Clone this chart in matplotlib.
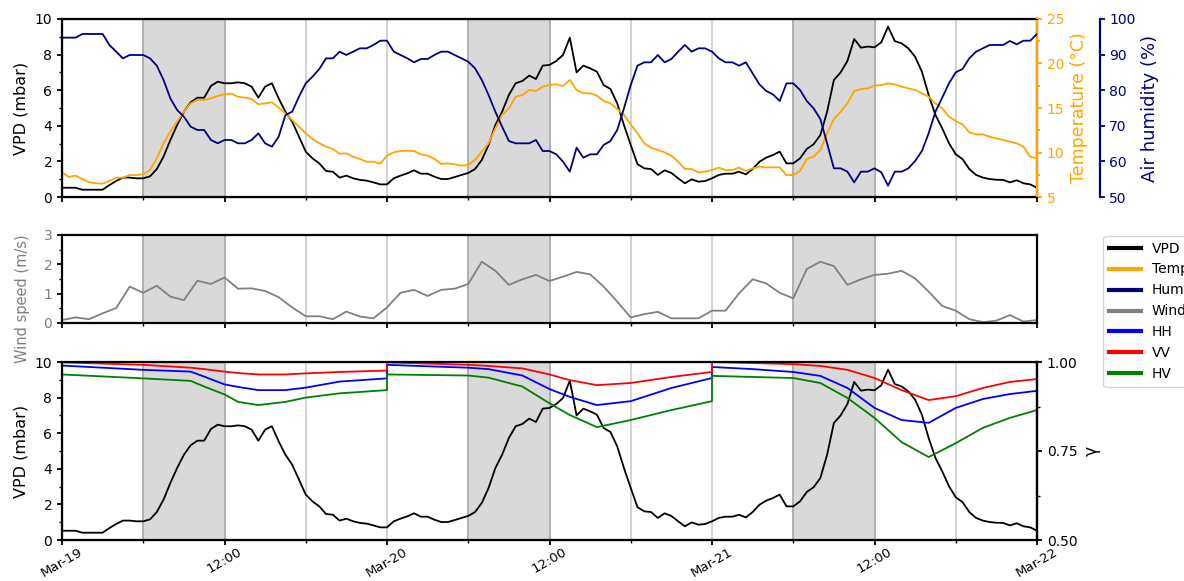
import matplotlib
matplotlib.use("Agg")
import matplotlib.pyplot as plt
from matplotlib.ticker import AutoMinorLocator, MultipleLocator
import numpy as np

# half-hourly sampling, hours since Mar-19 00:00
hours = np.arange(0, 72.5, 0.5)
wind_hours = np.arange(0, 73, 1)

vpd = [
    0.52, 0.52, 0.52, 0.41, 0.41, 0.41, 0.41, 0.67, 0.90, 1.09, 1.09, 1.05, 1.05, 1.16, 1.57, 2.27,
    3.20, 4.04, 4.79, 5.32, 5.58, 5.58, 6.24, 6.48, 6.39, 6.39, 6.44, 6.39, 6.20, 5.58, 6.20, 6.39,
    5.54, 4.79, 4.23, 3.39, 2.55, 2.17, 1.89, 1.46, 1.42, 1.09, 1.20, 1.05, 0.96, 0.92, 0.82, 0.71, 0.71,
    1.05, 1.20, 1.33, 1.50, 1.31, 1.31, 1.14, 1.01, 1.01, 1.12, 1.24, 1.35, 1.57, 2.08, 2.92, 4.04,
    4.79, 5.73, 6.39, 6.52, 6.82, 6.63, 7.38, 7.42, 7.64, 7.98, 8.95, 7.00, 7.38, 7.23, 7.04, 6.29,
    6.07, 5.26, 4.04, 2.92, 1.84, 1.61, 1.57, 1.24, 1.50, 1.35, 1.05, 0.77, 0.99, 0.86, 0.90, 1.05,
    1.24, 1.31, 1.31, 1.42, 1.27, 1.57, 1.98, 2.21, 2.36, 2.55, 1.89, 1.89, 2.17, 2.70, 2.96, 3.48,
    4.79, 6.57, 7.00, 7.64, 8.88, 8.39, 8.45, 8.41, 8.69, 9.57, 8.76, 8.63, 8.35, 7.88, 7.04, 5.73,
    4.61, 3.86, 3.02, 2.40, 2.13, 1.57, 1.24, 1.09, 1.01, 0.97, 0.96, 0.82, 0.94, 0.77, 0.71, 0.52,
]

temp = [
    7.77, 7.25, 7.40, 7.02, 6.65, 6.54, 6.50, 6.80, 7.17, 7.17, 7.47, 7.47, 7.55, 8.03, 9.34, 11.03,
    12.34, 13.46, 14.59, 15.52, 15.90, 15.90, 16.09, 16.35, 16.54, 16.61, 16.27, 16.16, 16.01, 15.41, 15.52, 15.64,
    15.04, 14.40, 13.65, 12.90, 12.15, 11.52, 11.03, 10.66, 10.39, 9.87, 9.90, 9.53, 9.27, 8.97, 8.97, 8.75, 9.64,
    10.02, 10.17, 10.20, 10.17, 9.79, 9.64, 9.27, 8.71, 8.78, 8.67, 8.52, 8.60, 9.16, 10.09, 11.03, 12.72,
    14.21, 14.96, 16.27, 16.46, 17.02, 16.91, 17.40, 17.58, 17.66, 17.47, 18.15, 17.02, 16.65, 16.65, 16.39, 15.79,
    15.52, 14.89, 14.21, 13.16, 12.15, 11.03, 10.54, 10.28, 10.02, 9.64, 8.97, 8.15, 8.15, 7.77, 7.85, 8.03,
    8.30, 8.03, 8.03, 8.30, 7.92, 8.22, 8.41, 8.33, 8.33, 8.33, 7.47, 7.47, 7.92, 9.27, 9.53, 10.28,
    12.15, 13.76, 14.59, 15.52, 16.91, 17.13, 17.21, 17.51, 17.58, 17.77, 17.66, 17.40, 17.21, 17.02, 16.65, 16.27,
    15.52, 14.96, 14.03, 13.54, 13.16, 12.27, 12.04, 12.04, 11.78, 11.59, 11.40, 11.22, 11.03, 10.66, 9.53, 9.34,
]

hum = [
    94.76, 94.76, 94.76, 95.79, 95.79, 95.79, 95.79, 92.70, 90.82, 88.95, 89.89, 89.89, 89.89, 88.95, 86.89, 82.87,
    77.72, 74.44, 72.57, 69.76, 68.82, 68.82, 66.01, 65.08, 66.01, 66.01, 65.08, 65.08, 66.01, 67.88, 65.08, 64.14,
    66.95, 73.03, 73.97, 78.18, 81.93, 83.80, 85.96, 88.95, 88.95, 90.82, 89.89, 90.82, 91.76, 91.76, 92.70, 93.91, 93.91,
    90.82, 89.89, 88.95, 87.83, 88.76, 88.76, 89.89, 90.82, 90.82, 89.89, 88.95, 88.01, 86.14, 82.87, 78.65, 73.97,
    69.76, 65.73, 65.08, 65.08, 65.08, 66.01, 62.92, 62.92, 61.99, 59.92, 57.12, 63.86, 61.05, 61.99, 61.99, 64.61,
    65.73, 68.82, 74.91, 81.46, 86.89, 87.83, 87.83, 89.89, 87.83, 88.76, 90.82, 92.70, 90.82, 91.76, 91.76, 90.82,
    88.95, 87.83, 87.83, 86.89, 87.83, 84.74, 81.65, 79.78, 78.84, 76.97, 81.93, 81.93, 80.06, 76.97, 74.91, 71.91,
    65.08, 58.05, 58.05, 57.12, 54.12, 57.12, 57.12, 58.05, 56.93, 53.18, 57.12, 57.12, 58.05, 60.11, 62.92, 67.88,
    73.97, 77.90, 81.93, 85.02, 85.96, 88.95, 90.82, 91.76, 92.70, 92.70, 92.70, 93.82, 92.88, 93.91, 93.91, 95.79,
]

wind = [
    0.10, 0.19, 0.13, 0.33, 0.51, 1.24, 1.03, 1.27, 0.90, 0.78, 1.44, 1.33, 1.55, 1.17, 1.18, 1.09,
    0.88, 0.53, 0.23, 0.23, 0.13, 0.39, 0.22, 0.16, 0.53, 1.03, 1.13, 0.92, 1.13, 1.17, 1.33, 2.09,
    1.78, 1.30, 1.49, 1.64, 1.43, 1.58, 1.74, 1.66, 1.24, 0.73, 0.19, 0.30, 0.38, 0.16, 0.16, 0.16,
    0.42, 0.42, 1.01, 1.49, 1.35, 1.03, 0.84, 1.84, 2.09, 1.94, 1.30, 1.49, 1.64, 1.68, 1.78, 1.52,
    1.07, 0.58, 0.42, 0.13, 0.03, 0.08, 0.27, 0.05, 0.10,
]

# backscatter ratio (gamma); values restart at midnight, hence the repeated hours
gamma_hours = [0, 6, 9.5, 10.5, 12, 13, 14.5, 16.5, 18, 20.5, 24,
               24, 30, 31.5, 34, 36, 37.5, 39.5, 42, 45, 48,
               48, 51, 54, 56, 58, 60, 62, 64, 66, 68, 70, 72]
gamma_vv = [0.999, 0.992, 0.984, 0.980, 0.973, 0.969, 0.965, 0.965, 0.968, 0.972, 0.976,
            0.999, 0.992, 0.989, 0.982, 0.965, 0.949, 0.935, 0.941, 0.958, 0.972,
            1.000, 0.997, 0.994, 0.989, 0.978, 0.955, 0.921, 0.893, 0.904, 0.927, 0.944, 0.952]
gamma_hh = [0.990, 0.978, 0.973, 0.959, 0.937, 0.930, 0.921, 0.921, 0.928, 0.945, 0.954,
            0.992, 0.984, 0.980, 0.962, 0.924, 0.902, 0.879, 0.890, 0.927, 0.955,
            0.986, 0.980, 0.972, 0.961, 0.927, 0.871, 0.837, 0.829, 0.871, 0.896, 0.910, 0.919]
gamma_hv = [0.965, 0.954, 0.947, 0.931, 0.909, 0.888, 0.879, 0.888, 0.900, 0.912, 0.921,
            0.965, 0.962, 0.956, 0.931, 0.884, 0.851, 0.817, 0.837, 0.865, 0.890,
            0.961, 0.958, 0.955, 0.941, 0.899, 0.843, 0.775, 0.733, 0.772, 0.815, 0.843, 0.865]

tick_hours = [0, 12, 24, 36, 48, 60, 72]
tick_labels = ["Mar-19", "12:00", "Mar-20", "12:00", "Mar-21", "12:00", "Mar-22"]
grid_hours = [6, 12, 18, 24, 30, 36, 42, 48, 54, 60, 66]
day_spans = [(6, 12), (30, 36), (54, 60)]

W, H = 1184, 581
fig = plt.figure(figsize=(W / 100, H / 100), dpi=100)
left, width = 62 / W, 975 / W
ax1 = fig.add_axes([left, 1 - 197 / H, width, 178 / H])
ax2 = fig.add_axes([left, 1 - 323 / H, width, 88 / H], sharex=ax1)
ax3 = fig.add_axes([left, 1 - 540 / H, width, 178 / H], sharex=ax1)

for ax in (ax1, ax2, ax3):
    for h in grid_hours:
        ax.axvline(h, color="#cccccc", lw=1.2, zorder=0)
    for a, b in day_spans:
        ax.axvspan(a, b, facecolor="#d9d9d9", edgecolor="#aaaaaa", lw=1.2, zorder=0)
    for s in ax.spines.values():
        s.set_linewidth(1.6)
    ax.tick_params(width=1.3, labelsize=10)
    ax.tick_params(which="minor", width=1.0)
    ax.xaxis.set_minor_locator(MultipleLocator(6))

lw = 1.3
# top: VPD, temperature, humidity
l_vpd, = ax1.plot(hours, vpd, color="black", lw=lw)
ax1.set_ylim(0, 10)
ax1.set_yticks([0, 2, 4, 6, 8, 10])
ax1.yaxis.set_minor_locator(AutoMinorLocator(2))
ax1.set_ylabel("VPD (mbar)", fontsize=11.5)
ax1.yaxis.set_label_coords(-0.034, 0.5)

ax1t = ax1.twinx()
l_temp, = ax1t.plot(hours, temp, color="orange", lw=lw)
ax1t.set_ylim(5, 25)
ax1t.set_yticks([5, 10, 15, 20, 25])
ax1t.yaxis.set_minor_locator(AutoMinorLocator(2))
ax1t.set_ylabel("Temperature (°C)", color="orange", fontsize=12.5)
ax1t.tick_params(colors="orange", which="both", labelsize=10, width=1.3)
ax1t.spines["right"].set_color("orange")
ax1t.spines["right"].set_linewidth(1.6)

ax1h = ax1.twinx()
ax1h.spines["right"].set_position(("outward", 45))
l_hum, = ax1h.plot(hours, hum, color="navy", lw=lw)
ax1h.set_ylim(50, 100)
ax1h.set_yticks([50, 60, 70, 80, 90, 100])
ax1h.set_ylabel("Air humidity (%)", color="navy", fontsize=13)
ax1h.tick_params(colors="navy", labelsize=10, width=1.3)
ax1h.spines["right"].set_color("navy")
ax1h.spines["right"].set_linewidth(1.6)
for s in ("top", "left", "bottom"):
    ax1h.spines[s].set_visible(False)

# middle: wind speed
l_wind, = ax2.plot(wind_hours, wind, color="gray", lw=lw)
ax2.set_ylim(0, 3)
ax2.set_yticks([0, 1, 2, 3])
ax2.yaxis.set_minor_locator(AutoMinorLocator(2))
ax2.set_ylabel("Wind speed (m/s)", color="gray", fontsize=10.5)
ax2.yaxis.set_label_coords(-0.033, 0.28)
ax2.tick_params(axis="y", labelcolor="gray")

# bottom: VPD and gamma
ax3.plot(hours, vpd, color="black", lw=lw)
ax3.set_ylim(0, 10)
ax3.set_yticks([0, 2, 4, 6, 8, 10])
ax3.yaxis.set_minor_locator(AutoMinorLocator(2))
ax3.set_ylabel("VPD (mbar)", fontsize=11.5)
ax3.yaxis.set_label_coords(-0.034, 0.5)

ax3g = ax3.twinx()
l_hh, = ax3g.plot(gamma_hours, gamma_hh, color="blue", lw=lw)
l_vv, = ax3g.plot(gamma_hours, gamma_vv, color="red", lw=lw)
l_hv, = ax3g.plot(gamma_hours, gamma_hv, color="green", lw=lw)
ax3g.set_ylim(0.5, 1.0)
ax3g.set_yticks([0.5, 0.75, 1.0])
ax3g.yaxis.set_minor_locator(AutoMinorLocator(2))
ax3g.set_ylabel("γ", fontsize=12.5)
ax3g.tick_params(labelsize=10, width=1.3)
ax3g.tick_params(which="minor", width=1.0)
ax3g.spines["right"].set_linewidth(1.6)

ax3.set_xlim(0, 72)
ax3.set_xticks(tick_hours)
ax3.set_xticklabels(tick_labels, rotation=30, fontsize=9.5)
ax3.tick_params(axis="x", pad=0.5)
ax1.tick_params(axis="x", labelbottom=False)
ax2.tick_params(axis="x", labelbottom=False)

handles = [l_vpd, l_temp, l_hum, l_wind, l_hh, l_vv, l_hv]
labels = ["VPD", "Temp.", "Hum.", "Wind", "HH", "VV", "HV"]
leg = fig.legend(handles, labels, loc="upper left", bbox_to_anchor=(1103 / W, 1 - 236 / H),
                 fontsize=10, handlelength=2.3, borderaxespad=0)
for line in leg.get_lines():
    line.set_linewidth(3)

fig.savefig("out.png", dpi=100)
